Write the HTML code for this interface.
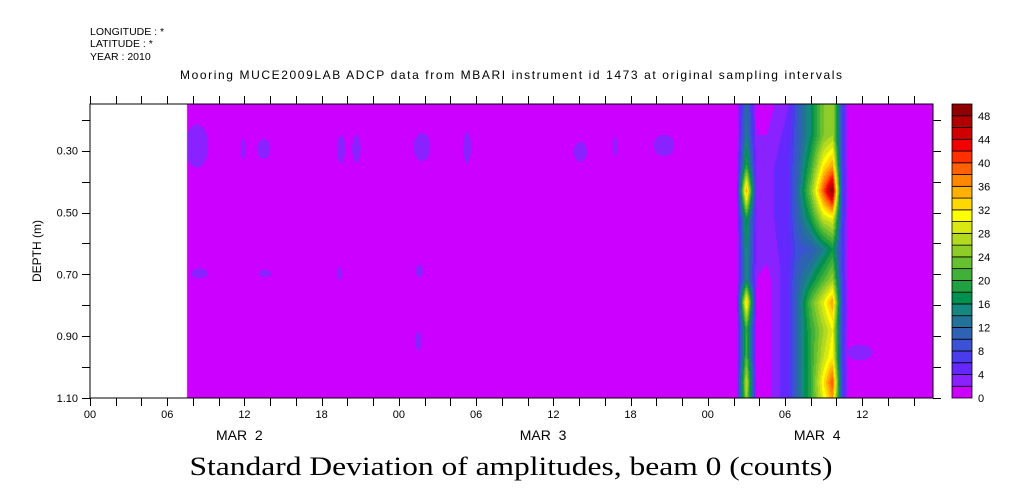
<!DOCTYPE html>
<html><head><meta charset="utf-8"><style>
body{margin:0;background:#fff;width:1009px;height:504px;overflow:hidden;position:relative}
canvas{position:absolute;left:0;top:0}
svg{position:absolute;left:0;top:0}
text{font-family:"Liberation Sans",sans-serif;fill:#000}
</style></head><body>
<canvas id="field" width="1009" height="504"></canvas>
<svg id="chart" width="1009" height="504">
<g font-size="10.5">
<text x="90" y="35">LONGITUDE : *</text>
<text x="90" y="47">LATITUDE : *</text>
<text x="90" y="60">YEAR : 2010</text>
</g>
<text x="511" y="79" font-size="12" text-anchor="middle" textLength="662">Mooring MUCE2009LAB ADCP data from MBARI instrument id 1473 at original sampling intervals</text>
<text x="511" y="475" font-size="26" text-anchor="middle" textLength="643" lengthAdjust="spacingAndGlyphs" style="font-family:'Liberation Serif',serif">Standard Deviation of amplitudes, beam 0 (counts)</text>
<text transform="translate(41,251) rotate(-90)" font-size="12" text-anchor="middle">DEPTH (m)</text>
<g id="axes"></g>
<g id="cbar"></g>
</svg>
<script>
// ---- data ----
const times = [7.5, 50.2, 51.0, 51.8, 52.6, 54.3, 55.0, 56.0, 57.0, 57.7, 58.4, 59.0, 65.5];
const depths = [0.15, 0.25, 0.35, 0.43, 0.52, 0.62, 0.72, 0.79, 0.88, 0.97, 1.05, 1.1];
const values = [
 [0,0,12,1,1,4,10,16,24,26,8,0,0],
 [0,0,14,2,2,5,10,16,24,26,8,0,0],
 [0,0,20,3,3,6,11,20,32,36,8,0,0],
 [0,0,36,3,3,6,12,24,40,50,9,0,0],
 [0,0,18,3,3,6,11,18,28,30,8,0,0],
 [0,0,16,3,3,5,9,10,14,18,7,0,0],
 [0,0,16,2,1,6,11,16,22,26,8,0,0],
 [0,0,34,1,1,6,12,22,30,36,9,0,0],
 [0,0,20,1,1,6,12,20,26,30,8,0,0],
 [0,0,22,1,1,6,12,20,28,32,8,0,0],
 [0,0,28,1,1,6,12,20,32,40,9,0,0],
 [0,0,26,1,1,6,12,20,30,36,9,0,0]
];
// small isolated blobs: time(h), depth(m), width(h), height(m)
const blobTimes = [8.3,11.9,13.5,19.5,20.7,25.8,29.3,38.1,40.8,44.6,8.5,13.6,19.4,25.6,25.5,59.8];
const blobDepths = [0.285,0.294,0.294,0.294,0.294,0.288,0.29,0.303,0.286,0.283,0.697,0.697,0.697,0.69,0.916,0.953];
const blobWidths = [1.8,0.35,1.0,0.65,0.65,1.3,0.6,1.0,0.35,1.6,1.3,1.0,0.4,0.6,0.5,2.0];
const blobHeights = [0.14,0.065,0.065,0.09,0.09,0.09,0.1,0.065,0.06,0.07,0.033,0.023,0.04,0.04,0.06,0.05];
const levelLabels = [0,4,8,12,16,20,24,28,32,36,40,44,48];
const colors = ['#cc00ff','#8a22ff','#6428ff','#4a3cec','#3c52d4','#2e62b4','#22729a','#168680','#009050','#20a040','#40b038','#66c030','#90cc28','#b4da20','#d8e810','#ffff00','#ffd800','#ffb000','#ff8800','#ff6000','#ff3000','#f00000','#d00000','#b00000','#900000'];
const xTickLabels = ['00','06','12','18','00','06','12','18','00','06','12'];
const dateLabels = ['MAR  2','MAR  3','MAR  4'];
const dateHours = [11.6,35.2,56.5];
const yTickLabels = ['0.30','0.50','0.70','0.90','1.10'];
const yTickValues = [0.3,0.5,0.7,0.9,1.1];

// ---- scales ----
const X0=90, X1=933, Y0=104, Y1=398, HMAX=65.5, D0=0.149, D1=1.1;
const xs = h => X0 + (h/HMAX)*(X1-X0);
const ys = d => Y0 + (d-D0)/(D1-D0)*(Y1-Y0);
const hx = x => (x-X0)/(X1-X0)*HMAX;
const dy = y => D0 + (y-Y0)/(Y1-Y0)*(D1-D0);

function seg(arr,v){let i=0;while(i<arr.length-2&&v>arr[i+1])i++;let f=(v-arr[i])/(arr[i+1]-arr[i]);return [i,Math.max(0,Math.min(1,f))];}
function val(t,d){
  const [i,fx]=seg(times,t),[j,fy]=seg(depths,d);
  const a=values[j][i],b=values[j][i+1],c=values[j+1][i],e=values[j+1][i+1];
  let v=(a*(1-fx)+b*fx)*(1-fy)+(c*(1-fx)+e*fx)*fy;
  for(let k=0;k<blobTimes.length;k++){
    const u=(t-blobTimes[k])/(blobWidths[k]/2), w=(d-blobDepths[k])/(blobHeights[k]/2);
    if(u*u+w*w<=1) v=Math.max(v,3);
  }
  return v;
}
const ctx=document.getElementById('field').getContext('2d');
for(let x=X0;x<X1;x++){
  const t=hx(x+0.5); if(t<times[0]) continue;
  for(let y=Y0;y<Y1;y++){
    const v=val(t,dy(y+0.5));
    let k=Math.floor(v/2); if(k<0)k=0; if(k>24)k=24;
    ctx.fillStyle=colors[k]; ctx.fillRect(x,y,1,1);
  }
}
// ---- axes ----
const NS='http://www.w3.org/2000/svg';
const ax=document.getElementById('axes');
function mk(tag,attrs,parent){const e=document.createElementNS(NS,tag);for(const k in attrs)e.setAttribute(k,attrs[k]);(parent||ax).appendChild(e);return e;}
const frame=mk('rect',{x:X0,y:Y0,width:X1-X0,height:Y1-Y0,fill:'none',stroke:'#000','stroke-width':1});


for(let h=0;h<=HMAX;h+=2){
  const x=Math.round(xs(h))+0.5;
  const t1=mk('line',{x1:x,x2:x,y1:Y1,y2:Y1+8,stroke:'#000'});
  
  
  const t2=mk('line',{x1:x,x2:x,y1:Y0,y2:Y0-8,stroke:'#000'});
  
  
}
xTickLabels.forEach((s,i)=>{
  const t=mk('text',{x:xs(i*6),y:418,'font-size':11,'text-anchor':'middle'});t.textContent=s;
  
  
});
dateLabels.forEach((s,i)=>{
  const t=mk('text',{x:xs(dateHours[i]),y:440,'font-size':14,'text-anchor':'middle'});t.textContent=s;
  t.style.whiteSpace='pre';
  
  
});
for(let d=0.2;d<=1.1001;d+=0.1){
  const y=Math.round(ys(d))+0.5;
  const l=mk('line',{x1:X0-8,x2:X0,y1:y,y2:y,stroke:'#000'});
  
  
  const r=mk('line',{x1:X1,x2:X1+8,y1:y,y2:y,stroke:'#000'});
  
  
}
yTickLabels.forEach((s,i)=>{
  const t=mk('text',{x:78,y:ys(yTickValues[i])+4,'font-size':11,'text-anchor':'end'});t.textContent=s;
  
  
});
// ---- colorbar ----
const cb=document.getElementById('cbar');
const CX=952,CW=20,bh=(Y1-Y0)/colors.length;
colors.forEach((c,k)=>{
  const r=mk('rect',{x:CX,y:Y1-(k+1)*bh,width:CW,height:bh,fill:c,stroke:'#000','stroke-width':0.8},cb);
  
  
});
levelLabels.forEach(v=>{
  const t=mk('text',{x:978,y:Y1-(v/2)*bh+4,'font-size':11},cb);t.textContent=v;
  
  
});
</script>
</body></html>
